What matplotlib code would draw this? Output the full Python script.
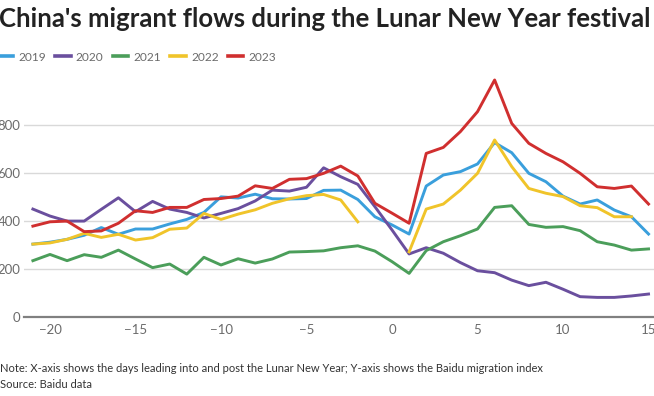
import numpy as np
import matplotlib
matplotlib.use("Agg")
import matplotlib.pyplot as plt

days = list(range(-21, 16))

y2019 = [305, 313, 325, 342, 374, 346, 368, 368, 389, 408, 437, 502, 497, 513, 494,
         493, 495, 529, 530, 491, 419, 385, 347, 547, 593, 607, 639, 728, 686, 600,
         565, 505, 472, 489, 447, 419, 347]
y2020 = [451, 422, 401, 401, 450, 498, 440, 483, 451, 437, 414, 433, 453, 485, 530,
         526, 542, 623, 586, 554, 461, 364, 264, 290, 267, 228, 194, 186, 155, 132,
         146, 117, 86, 83, 83, 89, 97]
y2021 = [236, 262, 236, 261, 250, 280, 243, 207, 222, 180, 250, 218, 244, 226, 243,
         272, 274, 277, 290, 298, 276, 232, 183, 278, 315, 340, 368, 458, 465, 387,
         375, 378, 361, 315, 301, 280, 285]
y2022 = [305, 310, 325, 350, 333, 346, 322, 332, 367, 372, 433, 408, 430, 448, 475,
         494, 507, 512, 489, 398, None, None, 273, 451, 472, 530, 600, 739, 628, 537,
         517, 503, 465, 457, 419, 419, None]
y2023 = [380, 398, 401, 357, 360, 392, 444, 437, 458, 458, 491, 495, 505, 548, 537,
         575, 578, 600, 630, 589, 475, 434, 392, 683, 708, 774, 857, 989, 808, 725,
         683, 648, 600, 544, 537, 547, 472]

years = ["2019", "2020", "2021", "2022", "2023"]
colors = ["#3a9fdc", "#6a4f9e", "#4b9e5a", "#f0c42a", "#d02f2f"]
series = [y2019, y2020, y2021, y2022, y2023]

plt.rcParams["font.family"] = ["Lato", "DejaVu Sans"]

fig = plt.figure(figsize=(6.54, 3.96), dpi=100)
ax = fig.add_axes([0.0367, 0.1987, 0.9633, 0.606])

for name, col, vals in zip(years, colors, series):
    v = np.array([np.nan if x is None else x for x in vals], dtype=float)
    ax.plot(days, v, color=col, lw=2.1, label=name)

ax.set_xlim(-21.52, 15.32)
ax.set_ylim(0, 1000)
ax.set_yticks([0, 200, 400, 600, 800])
ax.set_xticks([-20, -15, -10, -5, 0, 5, 10, 15])
ax.set_xticklabels(["\u221220", "\u221215", "\u221210", "\u22125", "0", "5", "10", "15"])
ax.grid(axis="y", color="#d9d9d9", lw=1)
ax.set_axisbelow(True)
for s in ["top", "right", "left"]:
    ax.spines[s].set_visible(False)
ax.spines["bottom"].set_color("#808080")
ax.spines["bottom"].set_linewidth(1.6)
ax.tick_params(axis="both", length=0, labelsize=9.5, labelcolor="#6b6b6b")
ax.tick_params(axis="y", pad=2.5)
ax.tick_params(axis="x", pad=5)

fig.text(-0.002, 0.952, "China's migrant flows during the Lunar New Year festival",
         fontsize=18.5, fontweight="bold", color="#222222", va="center", ha="left")

leg = fig.legend(loc="center left", bbox_to_anchor=(-0.004, 0.856), ncol=5, frameon=False,
                 fontsize=8.6, handlelength=1.3, handletextpad=0.45, columnspacing=0.75,
                 borderaxespad=0, borderpad=0)
for t in leg.get_texts():
    t.set_color("#6b6b6b")
for h in leg.get_lines():
    h.set_linewidth(2.6)

fig.text(0.0, 0.07, "Note: X-axis shows the days leading into and post the Lunar New Year; "
         "Y-axis shows the Baidu migration index", fontsize=8, color="#333333", va="center")
fig.text(0.0, 0.028, "Source: Baidu data", fontsize=8, color="#333333", va="center")

fig.savefig("out.png", dpi=100)
